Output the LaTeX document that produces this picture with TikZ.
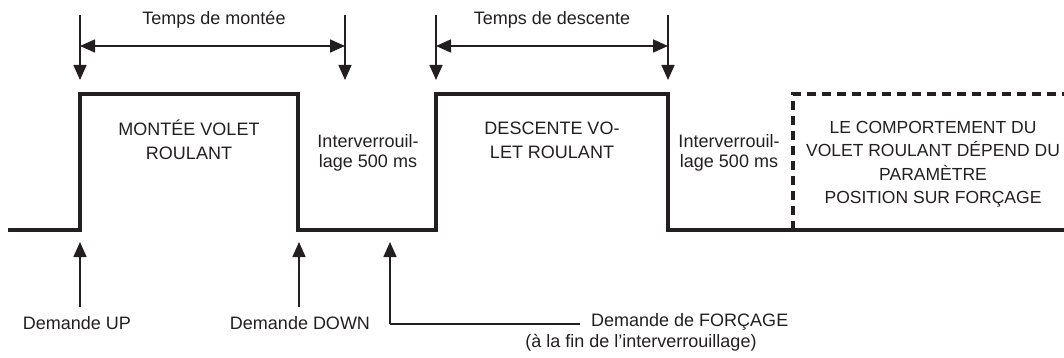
\documentclass[tikz,border=0pt]{standalone}
\usepackage{fontspec}
\setmainfont{Liberation Sans}
\usetikzlibrary{arrows.meta}
\definecolor{ink}{RGB}{35,31,32}
\tikzset{
  signal/.style={line width=3.8pt, draw=ink, line join=miter},
  dashsig/.style={line width=3.8pt, draw=ink, dash pattern=on 9pt off 6pt},
  dim/.style={line width=1.6pt, draw=ink, -{Triangle[length=15pt,width=13pt]}},
  dbl/.style={line width=1.6pt, draw=ink, {Triangle[length=15pt,width=13pt]}-{Triangle[length=15pt,width=13pt]}},
  thin/.style={line width=1.4pt, draw=ink},
  lbl/.style={text=ink, font=\fontsize{18}{24}\selectfont, align=center, inner sep=0pt},
  small/.style={text=ink, font=\fontsize{18}{20}\selectfont, align=center, inner sep=0pt},
  boxtxt/.style={text=ink, font=\fontsize{17.5}{23.5}\selectfont, align=center, inner sep=0pt},
}
\begin{document}
\begin{tikzpicture}[x=1pt,y=-1pt]
\useasboundingbox (0,0) rectangle (1064,358);
% signal corners
\coordinate (s0) at (8,230);
\coordinate (s1) at (80,230);
\coordinate (s2) at (80,94);
\coordinate (s3) at (298,94);
\coordinate (s4) at (298,230);
\coordinate (s5) at (436,230);
\coordinate (s6) at (436,94);
\coordinate (s7) at (668,94);
\coordinate (s8) at (668,230);
\coordinate (s9) at (1066,230);
\coordinate (d0) at (793,230);
\coordinate (d1) at (793,94);
\coordinate (d2) at (1066,94);
\draw[signal] (s0) -- (s1) -- (s2) -- (s3) -- (s4) -- (s5) -- (s6) -- (s7) -- (s8) -- (s9);
\draw[dashsig] (d0) -- (d1) -- (d2);
% top timing marks
\coordinate (t1a) at (80,15);  \coordinate (t1b) at (80,80);
\coordinate (t2a) at (345,15); \coordinate (t2b) at (345,80);
\coordinate (t3a) at (436,15); \coordinate (t3b) at (436,80);
\coordinate (t4a) at (668,15); \coordinate (t4b) at (668,80);
\draw[dim] (t1a) -- (t1b);
\draw[dim] (t2a) -- (t2b);
\draw[dim] (t3a) -- (t3b);
\draw[dim] (t4a) -- (t4b);
\coordinate (h1l) at (80,46);  \coordinate (h1r) at (345,46);
\coordinate (h2l) at (436,46); \coordinate (h2r) at (668,46);
\draw[dbl] (h1l) -- (h1r);
\draw[dbl] (h2l) -- (h2r);
\node[lbl] (tm) at (214,20) {Temps de montée};
\node[lbl] (td) at (552,20) {Temps de descente};
% state texts
\node[lbl] (up) at (189,140) {MONTÉE VOLET\\ROULANT};
\node[small] (il1) at (368,153) {Interverrouil-\\lage 500 ms};
\node[lbl] (dn) at (552,140) {DESCENTE VO-\\LET ROULANT};
\node[small] (il2) at (729,153) {Interverrouil-\\lage 500 ms};
\node[boxtxt] (cp) at (933,164) {LE COMPORTEMENT DU\\VOLET ROULANT DÉPEND DU\\PARAMÈTRE\\POSITION SUR FORÇAGE};
% bottom requests
\node[lbl] (rup) at (77,323) {Demande UP};
\node[lbl] (rdn) at (300,323) {Demande DOWN};
\node[lbl, anchor=west] (rf) at (591,322) {Demande de FORÇAGE};
\node[lbl] (rf2) at (641,343) {(à la fin de l'interverrouillage)};
\coordinate (b1a) at (80,307);  \coordinate (b1b) at (80,242);
\coordinate (b2a) at (299,307); \coordinate (b2b) at (299,242);
\coordinate (b3b) at (390,242); \coordinate (b3c) at (390,324);
\coordinate (b3d) at (580,324);
\draw[dim] (b1a) -- (b1b);
\draw[dim] (b2a) -- (b2b);
\draw[thin] (b3d) -- (b3c);
\draw[dim] (b3c) -- (b3b);
\end{tikzpicture}
\end{document}
